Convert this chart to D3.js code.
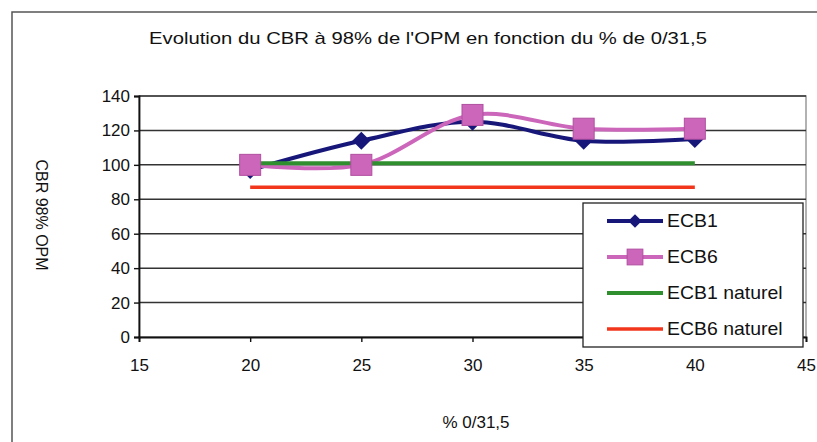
<!DOCTYPE html>
<html>
<head>
<meta charset="utf-8">
<script src="https://cdn.jsdelivr.net/npm/d3@7/dist/d3.min.js"></script>
<style>
  body { margin: 0; background: #fff; }
  text { font-family: "Liberation Sans", Arial, sans-serif; }
</style>
</head>
<body>
<div id="chart"></div>
<script>
// data
const xValues = [20, 25, 30, 35, 40];
const ecb1 = [97, 114, 125, 114, 115];
const ecb6 = [100, 100, 129, 121, 121];
const ecb1Naturel = [101, 101, 101, 101, 101];
const ecb6Naturel = [87, 87, 87, 87, 87];
const xTicks = [15, 20, 25, 30, 35, 40, 45];
const yTicks = [0, 20, 40, 60, 80, 100, 120, 140];

const series = [
  {name: "ECB1", values: ecb1, color: "#17177a", width: 4, marker: "diamond", smooth: true},
  {name: "ECB6", values: ecb6, color: "#cc66bb", width: 4, marker: "square", smooth: true},
  {name: "ECB1 naturel", values: ecb1Naturel, color: "#2f8f2f", width: 4, marker: null, smooth: false},
  {name: "ECB6 naturel", values: ecb6Naturel, color: "#f2361c", width: 3.5, marker: null, smooth: false}
];

const W = 817, H = 442;
const plot = {left: 139, right: 806, top: 96, bottom: 337};

const svg = d3.select("#chart").append("svg").attr("width", W).attr("height", H);

// outer chart frame
svg.append("rect")
  .attr("x", 12).attr("y", 12)
  .attr("width", 840).attr("height", 460)
  .attr("fill", "none").attr("stroke", "#555").attr("stroke-width", 1.5);

const x = d3.scaleLinear().domain([15, 45]).range([plot.left, plot.right]);
const y = d3.scaleLinear().domain([0, 140]).range([plot.bottom, plot.top]);

// plot area border
svg.append("rect")
  .attr("x", plot.left).attr("y", plot.top)
  .attr("width", plot.right - plot.left).attr("height", plot.bottom - plot.top)
  .attr("fill", "none").attr("stroke", "#999").attr("stroke-width", 1.5);

// gridlines
svg.append("g").selectAll("line")
  .data(yTicks.filter(d => d > 0))
  .join("line")
  .attr("x1", plot.left).attr("x2", plot.right)
  .attr("y1", d => y(d)).attr("y2", d => y(d))
  .attr("stroke", "#333").attr("stroke-width", 1.5);

// axes
const yAxis = svg.append("g")
  .attr("transform", `translate(${plot.left},0)`)
  .call(d3.axisLeft(y).tickValues(yTicks).tickSize(5).tickPadding(4));
const xAxis = svg.append("g")
  .attr("transform", `translate(0,${plot.bottom})`)
  .call(d3.axisBottom(x).tickValues(xTicks).tickSize(5).tickPadding(17));
[yAxis, xAxis].forEach(a => {
  a.select(".domain").attr("stroke", "#111").attr("stroke-width", 1.8);
  a.selectAll(".tick line").attr("stroke", "#111").attr("stroke-width", 1.4);
  a.selectAll("text").attr("font-size", 17).attr("fill", "#111")
    .attr("font-family", "'Liberation Sans', Arial, sans-serif");
});

// lines
series.forEach(s => {
  const line = d3.line()
    .x((d, i) => x(xValues[i]))
    .y(d => y(d))
    .curve(s.smooth ? d3.curveCatmullRom.alpha(0.5) : d3.curveLinear);
  svg.append("path")
    .datum(s.values)
    .attr("d", line)
    .attr("fill", "none")
    .attr("stroke", s.color)
    .attr("stroke-width", s.width);
});

function drawMarker(g, type, cx, cy, color, scale) {
  if (type === "diamond") {
    const r = 9 * scale;
    g.append("path")
      .attr("d", `M${cx},${cy - r}L${cx + r},${cy}L${cx},${cy + r}L${cx - r},${cy}Z`)
      .attr("fill", color);
  } else if (type === "square") {
    const s = 21 * scale;
    g.append("rect")
      .attr("x", cx - s / 2).attr("y", cy - s / 2)
      .attr("width", s).attr("height", s)
      .attr("fill", color).attr("stroke", "#b04fa0").attr("stroke-width", 1);
  }
}

// markers (ECB1 drawn first, squares on top)
series.forEach(s => {
  if (!s.marker) return;
  const g = svg.append("g");
  s.values.forEach((v, i) => drawMarker(g, s.marker, x(xValues[i]), y(v), s.color, 1));
});

// legend
const lg = svg.append("g").attr("transform", "translate(583,203)");
lg.append("rect")
  .attr("width", 220).attr("height", 144)
  .attr("fill", "#fff").attr("stroke", "#222").attr("stroke-width", 1.3);
series.forEach((s, i) => {
  const ly = 18 + i * 36;
  lg.append("line")
    .attr("x1", 24).attr("x2", 80)
    .attr("y1", ly).attr("y2", ly)
    .attr("stroke", s.color).attr("stroke-width", s.width);
  if (s.marker) drawMarker(lg, s.marker, 52, ly, s.color, 0.75);
  lg.append("text")
    .attr("x", 84).attr("y", ly)
    .attr("dominant-baseline", "central")
    .attr("font-size", 18).attr("fill", "#111")
    .attr("transform", `translate(84,0) scale(1.08,1) translate(-84,0)`)
    .text(s.name);
});

// title
svg.append("text")
  .attr("x", 428).attr("y", 44)
  .attr("text-anchor", "middle")
  .attr("font-size", 17).attr("fill", "#111")
  .attr("textLength", 558).attr("lengthAdjust", "spacingAndGlyphs")
  .text("Evolution du CBR à 98% de l'OPM en fonction du % de 0/31,5");

// axis titles
svg.append("text")
  .attr("transform", "translate(36,215) rotate(90)")
  .attr("text-anchor", "middle")
  .attr("font-size", 16).attr("fill", "#111")
  .text("CBR 98% OPM");

svg.append("text")
  .attr("x", 476).attr("y", 428)
  .attr("text-anchor", "middle")
  .attr("font-size", 17).attr("fill", "#111")
  .text("% 0/31,5");
</script>
</body>
</html>
